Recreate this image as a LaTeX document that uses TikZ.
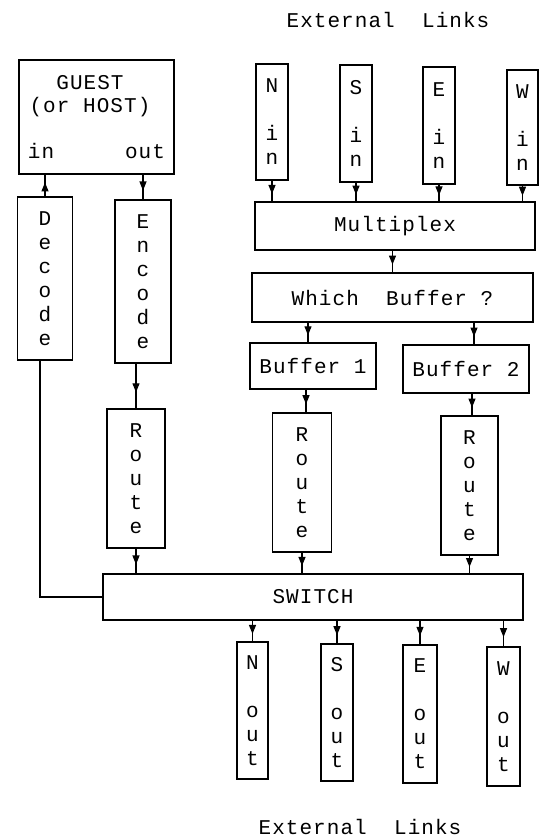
\documentclass[tikz,border=0pt]{standalone}
\usepackage{fontspec}
\setmonofont[LetterSpace=5]{Liberation Mono}
\usetikzlibrary{arrows.meta,decorations.markings}
\begin{document}
\begin{tikzpicture}[x=1pt,y=-1pt,
 box/.style={draw,line width=1.1pt,inner sep=0pt,align=center,font=\ttfamily\fontsize{21}{24}\selectfont},
 lbl/.style={inner sep=0pt,align=center,font=\ttfamily\fontsize{21}{24}\selectfont},
 conn/.style={line width=1.1pt},
 arr/.style={conn,postaction={decorate},decoration={markings,mark=at position 0.64 with {\arrow{Triangle[width=7pt,length=9pt]}}}}]
\useasboundingbox (0,0) rectangle (540,838);
% labels
\node[lbl] (extop) at (388,20) {External\ \ Links};
\node[lbl] (extbot) at (360,827) {External\ \ Links};
% host side
\node[box,minimum width=155pt,minimum height=114pt] (guest) at (96.5,117) {};
\node[lbl] (g1) at (90,83) {GUEST};
\node[lbl] (g2) at (90,107) {(or HOST)};
\node[lbl,anchor=base] (gin) at (41,158) {in};
\node[lbl,anchor=base] (gout) at (145,158) {out};
\node[box,minimum width=55pt,minimum height=163pt] (decode) at (45,278.5) {D\\e\\c\\o\\d\\e};
\node[box,minimum width=56pt,minimum height=163pt] (encode) at (143,281.5) {E\\n\\c\\o\\d\\e};
\node[box,minimum width=58pt,minimum height=139pt] (routeL) at (136,478.5) {R\\o\\u\\t\\e};
% inputs
\node[box,minimum width=32pt,minimum height=116pt] (nin) at (272,122) {N\\[24pt]i\\n};
\node[box,minimum width=32pt,minimum height=117pt] (sin) at (356,123.5) {S\\[24pt]i\\n};
\node[box,minimum width=32pt,minimum height=117pt] (ein) at (439,125.5) {E\\[24pt]i\\n};
\node[box,minimum width=31pt,minimum height=115pt] (win) at (522.5,127.5) {W\\[24pt]i\\n};
\node[box,minimum width=280pt,minimum height=48pt] (mux) at (395,226) {Multiplex};
\node[box,minimum width=281pt,minimum height=49pt] (which) at (392.5,297.5) {Which\ \ Buffer ?};
\node[box,minimum width=126pt,minimum height=46pt] (buf1) at (313,366) {Buffer 1};
\node[box,minimum width=126pt,minimum height=48pt] (buf2) at (466,369) {Buffer 2};
\node[box,minimum width=59pt,minimum height=139pt] (routeM) at (302,482.5) {R\\o\\u\\t\\e};
\node[box,minimum width=57pt,minimum height=139pt] (routeR) at (469.5,485.5) {R\\o\\u\\t\\e};
% switch and outputs
\node[box,minimum width=420pt,minimum height=46pt] (switch) at (313,597) {SWITCH};
\node[box,minimum width=31pt,minimum height=137pt] (nout) at (252.5,710.5) {N\\[24pt]o\\u\\t};
\node[box,minimum width=32pt,minimum height=137pt] (sout) at (337,712.5) {S\\[24pt]o\\u\\t};
\node[box,minimum width=34pt,minimum height=138pt] (eout) at (420,714) {E\\[24pt]o\\u\\t};
\node[box,minimum width=33pt,minimum height=139pt] (wout) at (503.5,716.5) {W\\[24pt]o\\u\\t};
% connectors
\draw[arr] (decode.north) -- (decode.north |- guest.south);
\draw[arr] (encode.north |- guest.south) -- (encode.north);
\draw[arr] (routeL.north |- encode.south) -- (routeL.north);
\draw[conn] ([xshift=-5pt]decode.south) -- ([xshift=-5pt]decode.south |- switch.west) -- (switch.west);
\foreach \n in {nin,sin,ein,win}
  \draw[arr] (\n.south) -- (\n.south |- mux.north);
\draw[arr] (mux.south -| which.north) -- (which.north);
\draw[arr] ([xshift=-5pt]buf1.north |- which.south) -- ([xshift=-5pt]buf1.north);
\draw[arr] ([xshift=8pt]buf2.north |- which.south) -- ([xshift=8pt]buf2.north);
\draw[arr] ([xshift=-7pt]buf1.south) -- ([xshift=-7pt]buf1.south |- routeM.north);
\draw[arr] ([xshift=6pt]buf2.south) -- ([xshift=6pt]buf2.south |- routeR.north);
\foreach \r in {routeL,routeM,routeR}
  \draw[arr] (\r.south) -- (\r.south |- switch.north);
\foreach \o in {nout,sout,eout,wout}
  \draw[arr] (\o.north |- switch.south) -- (\o.north);
\end{tikzpicture}
\end{document}
